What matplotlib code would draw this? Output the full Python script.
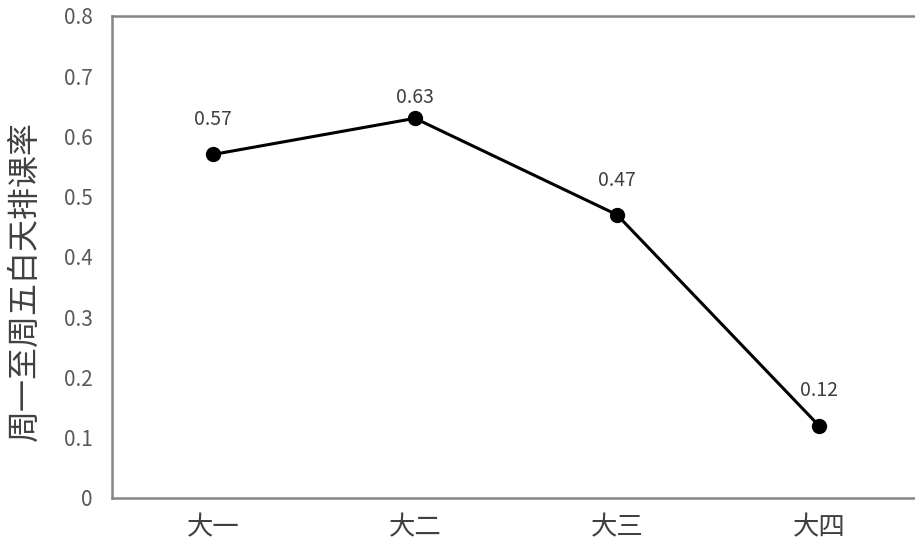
import matplotlib.pyplot as plt

plt.rcParams['font.family'] = ['Noto Sans CJK SC', 'DejaVu Sans']

# datos
grades = ['大一', '大二', '大三', '大四']
rates = [0.57, 0.63, 0.47, 0.12]
y_ticks = [0, 0.1, 0.2, 0.3, 0.4, 0.5, 0.6, 0.7, 0.8]
y_ticklabels = ['0', '0.1', '0.2', '0.3', '0.4', '0.5', '0.6', '0.7', '0.8']

fig = plt.figure(figsize=(9.15, 5.51), dpi=100)
ax = fig.add_axes([0.1224, 0.0962, 0.883, 0.875])

x = range(len(grades))
ax.plot(x, rates, color='black', linewidth=2.2, marker='o', markersize=10)

# etiquetas de datos (la de 0.63 queda mas cerca del punto)
label_offsets = [25, 15, 25, 25]
for xi, v, off in zip(x, rates, label_offsets):
    ax.annotate(f'{v:.2f}', (xi, v), xytext=(0, off), textcoords='offset points',
                ha='center', va='center', fontsize=14, color='#404040')

ax.set_xlim(-0.5, 3.5)
ax.set_ylim(0, 0.8)
ax.set_xticks(list(x))
ax.set_xticklabels(grades, fontsize=19, color='#404040', fontweight='light')
ax.set_yticks(y_ticks)
ax.set_yticklabels(y_ticklabels, fontsize=15, color='#595959')
ax.tick_params(axis='both', length=0)
ax.tick_params(axis='y', pad=14)
ax.tick_params(axis='x', pad=12)

for s in ax.spines.values():
    s.set_color('#858585')
    s.set_linewidth(1.8)

ax.set_ylabel('周一至周五白天排课率', fontsize=23, color='#404040', fontweight='light')
ax.yaxis.set_label_coords(-0.088, 0.45)

fig.savefig('out.png', dpi=100)
